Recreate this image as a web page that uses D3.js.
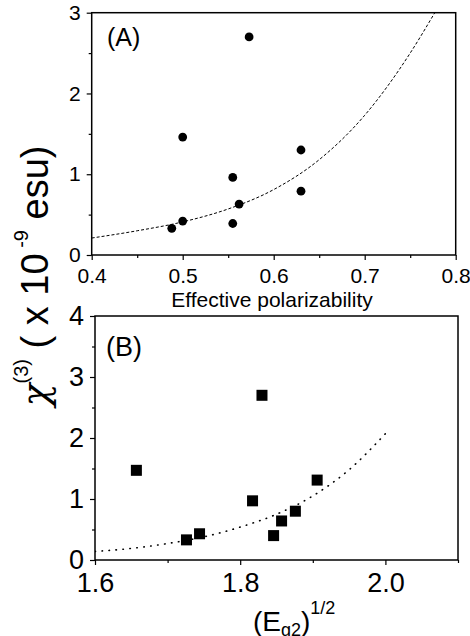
<!DOCTYPE html>
<html>
<head>
<meta charset="utf-8">
<script src="https://cdn.jsdelivr.net/npm/d3@7"></script>
<style>
  body { margin: 0; background: #fff; }
  svg { display: block; font-family: "Liberation Sans", Arial, sans-serif; }
  text { white-space: pre; }
</style>
</head>
<body>
<svg width="470" height="636"></svg>
<script>
// panel A: chi(3) vs effective polarizability
var polA = [0.488, 0.500, 0.500, 0.555, 0.555, 0.562, 0.573, 0.630, 0.630];
var chiA = [0.33, 0.42, 1.46, 0.96, 0.39, 0.63, 2.70, 1.30, 0.79];
var fitAx = [0.40, 0.45, 0.50, 0.55, 0.60, 0.65, 0.70, 0.75, 0.777];
var fitAy = [0.21, 0.30, 0.41, 0.57, 0.81, 1.18, 1.73, 2.50, 3.00];
var ticksAx = [0.4, 0.5, 0.6, 0.7, 0.8];
var ticksAy = [0, 1, 2, 3];

// panel B: chi(3) vs (Eg2)^1/2
var egB = [1.657, 1.726, 1.744, 1.817, 1.830, 1.846, 1.857, 1.876, 1.906];
var chiB = [1.47, 0.33, 0.43, 0.97, 2.70, 0.40, 0.64, 0.80, 1.31];
var fitBx = [1.60, 1.65, 1.70, 1.75, 1.80, 1.85, 1.90, 1.95, 2.00];
var fitBy = [0.14, 0.19, 0.27, 0.38, 0.54, 0.75, 1.05, 1.48, 2.07];
var ticksBx = [1.6, 1.8, 2.0];
var ticksBy = [0, 1, 2, 3, 4];

var svg = d3.select("svg");

function panel(o) {
  var g = svg.append("g");
  var x = d3.scaleLinear().domain(o.xd).range(o.xr);
  var y = d3.scaleLinear().domain(o.yd).range(o.yr);

  // minor ticks
  g.append("g").attr("transform", "translate(0," + o.yr[0] + ")")
    .call(d3.axisBottom(x).tickValues(o.xminor).tickSize(3).tickFormat(""))
    .call(function (s) { s.select(".domain").remove(); });
  g.append("g").attr("transform", "translate(" + o.xr[0] + ",0)")
    .call(d3.axisLeft(y).tickValues(o.yminor).tickSize(3).tickFormat(""))
    .call(function (s) { s.select(".domain").remove(); });

  // major ticks + labels
  var ax = g.append("g").attr("transform", "translate(0," + o.yr[0] + ")")
    .call(d3.axisBottom(x).tickValues(o.xt).tickSize(5).tickPadding(8).tickFormat(d3.format(".1f")));
  var ay = g.append("g").attr("transform", "translate(" + o.xr[0] + ",0)")
    .call(d3.axisLeft(y).tickValues(o.yt).tickSize(5).tickPadding(6).tickFormat(d3.format("d")));
  [ax, ay].forEach(function (a) {
    a.select(".domain").remove();
    a.selectAll("text").style("font-size", o.fs + "px").attr("fill", "#000")
      .style("font-family", "'Liberation Sans', Arial, sans-serif");
  });
  g.selectAll(".tick line").attr("stroke", "#000").attr("stroke-width", 1.2);

  // frame
  g.append("rect")
    .attr("x", o.xr[0]).attr("y", o.yr[1])
    .attr("width", o.xr[1] - o.xr[0]).attr("height", o.yr[0] - o.yr[1])
    .attr("fill", "none").attr("stroke", "#000").attr("stroke-width", 1.5);

  // fit curve
  var clipId = "clip" + o.id;
  svg.append("clipPath").attr("id", clipId).append("rect")
    .attr("x", o.xr[0]).attr("y", o.yr[1])
    .attr("width", o.xr[1] - o.xr[0]).attr("height", o.yr[0] - o.yr[1]);
  var line = d3.line()
    .x(function (d) { return x(d[0]); })
    .y(function (d) { return y(d[1]); })
    .curve(d3.curveMonotoneX);
  g.append("path")
    .datum(d3.zip(o.fx, o.fy))
    .attr("clip-path", "url(#" + clipId + ")")
    .attr("d", line)
    .attr("fill", "none").attr("stroke", "#000")
    .attr("stroke-width", o.dotted ? 1.6 : 1)
    .attr("stroke-linecap", o.dotted ? "round" : "butt")
    .attr("stroke-dasharray", o.dotted ? "0.5,6.5" : "3,2");

  // points
  var pts = d3.zip(o.px, o.py);
  if (o.square) {
    g.selectAll("rect.pt").data(pts).enter().append("rect")
      .attr("class", "pt")
      .attr("x", function (d) { return x(d[0]) - 5.5; })
      .attr("y", function (d) { return y(d[1]) - 5.5; })
      .attr("width", 11).attr("height", 11).attr("fill", "#000");
  } else {
    g.selectAll("circle").data(pts).enter().append("circle")
      .attr("cx", function (d) { return x(d[0]); })
      .attr("cy", function (d) { return y(d[1]); })
      .attr("r", 4.4).attr("fill", "#000");
  }
  return { x: x, y: y, g: g };
}

var A = panel({
  id: "A", xd: [0.4, 0.8], xr: [91.7, 455.7], yd: [0, 3], yr: [255, 12.7],
  xt: ticksAx, yt: ticksAy, xminor: [0.45, 0.55, 0.65, 0.75], yminor: [0.5, 1.5, 2.5],
  fs: 21, px: polA, py: chiA, fx: fitAx, fy: fitAy, dotted: false, square: false
});
A.g.append("text").attr("x", 107).attr("y", 46).style("font-size", "25px").text("(A)");
A.g.append("text").attr("x", 272).attr("y", 307).attr("text-anchor", "middle")
  .style("font-size", "21px").text("Effective polarizability");

var B = panel({
  id: "B", xd: [1.6, 2.1], xr: [95, 458], yd: [0, 4], yr: [560, 316],
  xt: ticksBx, yt: ticksBy, xminor: [1.7, 1.9, 2.1], yminor: [0.5, 1.5, 2.5, 3.5],
  fs: 27, px: egB, py: chiB, fx: fitBx, fy: fitBy, dotted: true, square: true
});
B.g.append("text").attr("x", 106).attr("y", 356).style("font-size", "27px").text("(B)");

var xl = B.g.append("text").attr("x", 253).attr("y", 631).style("font-size", "28px");
xl.append("tspan").text("(E");
xl.append("tspan").attr("dy", 5).style("font-size", "18px").text("g2");
xl.append("tspan").attr("dy", -5).text(")");
xl.append("tspan").attr("dy", -17).style("font-size", "18px").text("1/2");

// shared y label
var yl = svg.append("text")
  .attr("transform", "translate(48,276) rotate(-90)")
  .attr("text-anchor", "middle")
  .style("font-size", "38px");
yl.append("tspan").style("font-family", "'DejaVu Serif', serif").style("font-style", "italic").text("χ");
yl.append("tspan").attr("dy", -20).style("font-size", "20px").text("(3)");
yl.append("tspan").attr("dy", 20).text(" ( x 10");
yl.append("tspan").attr("dy", -20).style("font-size", "20px").text(" -9");
yl.append("tspan").attr("dy", 20).text(" esu)");
</script>
</body>
</html>
